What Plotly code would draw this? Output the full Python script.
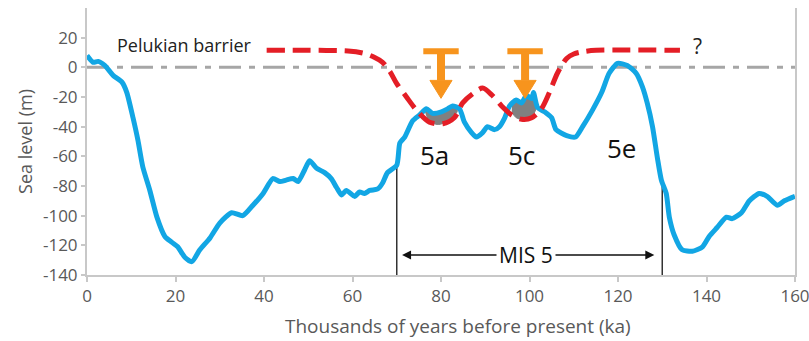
import plotly.graph_objects as go

# ---- data ----
age_ka = [0, 1.4, 2.5, 4, 5.9, 7.9, 9, 10.4, 11.5, 12.6, 14.2, 15.8, 17.6, 19.2, 20.5, 22.1, 23.7,
          25.5, 27.8, 30, 32.7, 35.2, 37.5, 39.8, 42, 43.6, 45, 46.6, 47.7, 49.2, 50.3, 51.9, 53.7,
          55.2, 56.4, 57.5, 58.6, 60.5, 61.6, 62.7, 63.9, 65.7, 66.8, 67.9, 70, 70.7, 71.8, 73.6,
          75.2, 76.7, 78.1, 80.1, 81.5, 82.6, 84.2, 85.3, 86.9, 88, 89.4, 90.5, 92.1, 93.2, 94.4,
          95.5, 97, 98.2, 99.3, 100.5, 100.9, 101.8, 103.4, 105, 106, 108.4, 110.4, 112, 114.2,
          116.3, 118, 119.9, 122.1, 124.1, 125.5, 126.6, 127.8, 128.9, 129.8, 130.9, 131.6, 132.7,
          134.5, 136.8, 139.1, 140.6, 142.4, 144.5, 145.8, 147.9, 149.7, 151.9, 153.7, 156, 157.6, 160]
sea_level_m = [8, 3.4, 4, 1.3, -5.4, -10, -17, -34, -49, -67, -83, -101, -114, -118, -121, -128, -131,
               -123, -115, -105, -98, -100, -93, -85, -75, -77, -76, -75, -77, -69, -63, -68, -71,
               -75, -81, -86, -83, -87, -84, -85, -83, -82, -78, -71, -66, -51, -47, -36,
               -32, -28, -31, -30, -28, -26, -28, -37, -44, -47, -44, -40, -42, -40, -34,
               -26, -22, -24, -19, -21, -17, -27, -30, -34, -42, -46, -47, -40, -29,
               -17, -4, 2.7, 1.3, -4, -13, -24, -40, -61, -76, -85, -101, -113,
               -123, -124, -121, -114, -108, -101, -102, -98, -90, -85, -87, -93, -90, -87]

barrier_x = [40.6, 50, 59, 62.5, 64.8, 66.8, 68.5, 70, 72.2, 74.5, 77.4, 80.4, 83, 84.9, 87.1, 89.4,
             91.6, 93.7, 95.9, 98.2, 100.5, 102.7, 104.5, 106.3, 108.4, 110, 112, 115, 134]
barrier_y = [11.5, 11.5, 11, 9.5, 7, 3.4, -3, -11, -20, -29, -37, -38, -34, -24, -18, -14,
             -19, -26, -32, -35, -34, -28, -17, -4, 6, 9, 10.5, 11.5, 11.5]

blob_5a_x = [76.3, 77.5, 78.6, 80.1, 81.5, 82.8, 83.7, 82.6, 81, 79.5, 78, 76.8]
blob_5a_y = [-29.5, -29, -31, -30, -28.5, -27, -29, -34, -37, -38.5, -37.5, -34]
blob_5c_x = [96, 97, 98.2, 99.3, 100.5, 100.9, 101.6, 101.2, 100, 98.5, 97, 96]
blob_5c_y = [-25, -22, -24, -19, -21, -18, -25, -30, -34, -35, -34, -30]

arrow_x = [80, 99]
bar_y = 10.8
bar_half = 4.0
stem_bottom = -8.8
tip_y = -20.9
head_half = 2.5

mis_bounds_x = [70, 130]
mis_bounds_top = [-66, -80]
mis_arrow_y = -126.6
mis_arrow_ends = [71.2, 128.2]

stage_labels = ["5a", "5c", "5e"]
stage_x = [78.6, 98.2, 120.8]
stage_y = [-59, -59, -54.5]

x_ticks = [0, 20, 40, 60, 80, 100, 120, 140, 160]
y_ticks = [-140, -120, -100, -80, -60, -40, -20, 0, 20]
y_ticktext = ["-140", "-120", "-100", "-80", "-60", "-40", "-20", "0", "20"]

FONT = "Open Sans"
BLUE = "#12A6E4"
RED = "#E41E26"
ORANGE = "#F7941D"
GRAYTXT = "#595959"

fig = go.Figure()

# zero line (dash-dot)
fig.add_trace(go.Scatter(x=[0, 160], y=[0, 0], mode="lines",
                         line=dict(color="#A6A6A6", width=3, dash="22px,8px,6px,8px"),
                         hoverinfo="skip", showlegend=False))
# grey blobs
for bx, by in [(blob_5a_x, blob_5a_y), (blob_5c_x, blob_5c_y)]:
    fig.add_trace(go.Scatter(x=bx, y=by, mode="lines", fill="toself", fillcolor="#808080",
                             line=dict(color="#808080", width=1, shape="spline"),
                             hoverinfo="skip", showlegend=False))
# MIS boundaries
for bx, bt in zip(mis_bounds_x, mis_bounds_top):
    fig.add_trace(go.Scatter(x=[bx, bx], y=[bt, -140], mode="lines",
                             line=dict(color="#333333", width=1.5),
                             hoverinfo="skip", showlegend=False))
# sea level curve
fig.add_trace(go.Scatter(x=age_ka, y=sea_level_m, mode="lines",
                         line=dict(color=BLUE, width=5, shape="spline", smoothing=0.6),
                         showlegend=False))
# barrier
fig.add_trace(go.Scatter(x=barrier_x, y=barrier_y, mode="lines",
                         line=dict(color=RED, width=5, dash="18px,8px", shape="spline", smoothing=0.8),
                         showlegend=False))

shapes = []
for ax_ in arrow_x:
    shapes.append(dict(type="line", xref="x", yref="y", x0=ax_ - bar_half, x1=ax_ + bar_half,
                       y0=bar_y, y1=bar_y, line=dict(color=ORANGE, width=6)))
    shapes.append(dict(type="line", xref="x", yref="y", x0=ax_, x1=ax_,
                       y0=bar_y, y1=stem_bottom, line=dict(color=ORANGE, width=8)))
    shapes.append(dict(type="path", xref="x", yref="y",
                       path=f"M {ax_ - head_half},{stem_bottom} L {ax_ + head_half},{stem_bottom} L {ax_},{tip_y} Z",
                       fillcolor=ORANGE, line=dict(color=ORANGE, width=1)))

annotations = []
mid = (mis_arrow_ends[0] + mis_arrow_ends[1]) / 2
for end in mis_arrow_ends:
    annotations.append(dict(x=end, y=mis_arrow_y, ax=mid, ay=mis_arrow_y, xref="x", yref="y",
                            axref="x", ayref="y", text="", showarrow=True, arrowhead=2,
                            arrowsize=1.2, arrowwidth=1.5, arrowcolor="#111111"))
annotations.append(dict(x=99.3, y=mis_arrow_y, xref="x", yref="y", text="MIS 5", showarrow=False,
                        bgcolor="white", borderpad=2, font=dict(family=FONT, size=21, color="#111111")))
for t, sx, sy in zip(stage_labels, stage_x, stage_y):
    annotations.append(dict(x=sx, y=sy, xref="x", yref="y", text=t, showarrow=False,
                            font=dict(family=FONT, size=26, color="#111111")))
annotations.append(dict(x=22, y=14.8, xref="x", yref="y", text="Pelukian barrier",
                        showarrow=False, font=dict(family=FONT, size=18, color="#222222")))
annotations.append(dict(x=138, y=14.5, xref="x", yref="y", text="?", showarrow=False,
                        font=dict(family=FONT, size=21, color="#222222")))
# x-axis title (slightly right of centre, as in the original)
annotations.append(dict(x=0.524, y=-0.19, xref="paper", yref="paper", yanchor="middle",
                        text="Thousands of years before present (ka)", showarrow=False,
                        font=dict(family=FONT, size=19, color=GRAYTXT)))

fig.update_layout(
    width=809, height=341,
    margin=dict(l=87, r=14, t=8, b=66),
    plot_bgcolor="white", paper_bgcolor="white",
    shapes=shapes, annotations=annotations,
    font=dict(family=FONT, color=GRAYTXT),
    xaxis=dict(range=[0, 160], tickvals=x_ticks, showgrid=False, zeroline=False,
               showline=True, linecolor="#C8C8C8", linewidth=2, ticks="outside",
               ticklen=5, tickcolor="#C8C8C8", tickwidth=1.5, ticklabeloverflow="allow",
               automargin=False,
               tickfont=dict(family=FONT, size=17, color=GRAYTXT)),
    yaxis=dict(range=[-140, 40], tickvals=y_ticks, ticktext=y_ticktext, showgrid=False,
               zeroline=False, showline=True, mirror=True, linecolor="#C8C8C8", linewidth=2,
               ticks="outside", ticklen=4, tickcolor="#C8C8C8", tickwidth=1.5,
               automargin=False,
               tickfont=dict(family=FONT, size=17, color=GRAYTXT),
               title=dict(text="Sea level (m)", standoff=6,
                          font=dict(family=FONT, size=18, color=GRAYTXT))),
)

fig.write_html("out.html")
